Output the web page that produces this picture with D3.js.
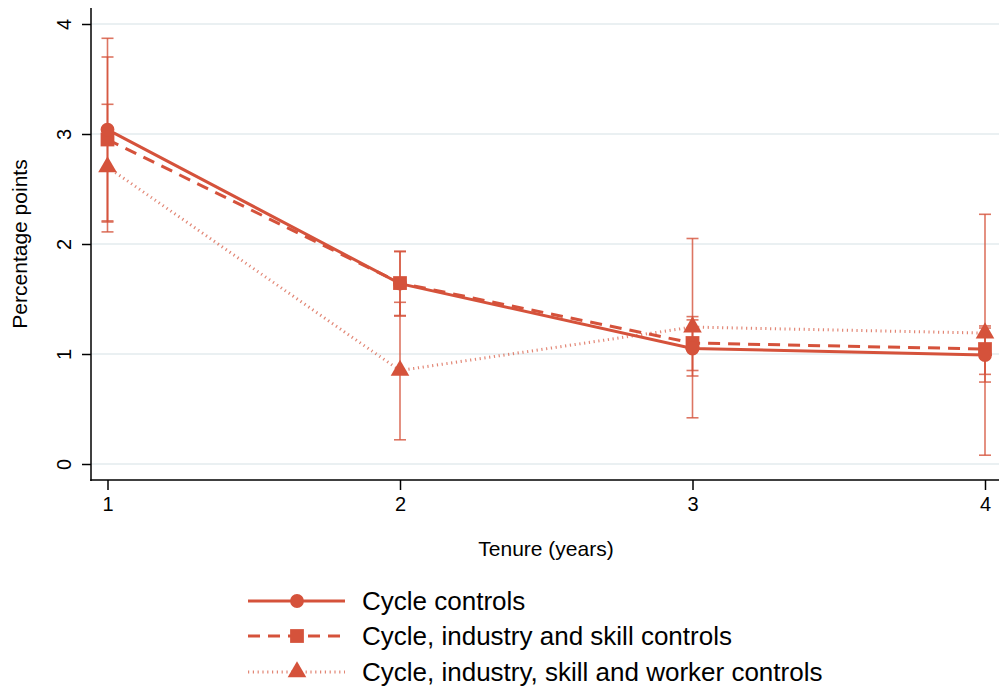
<!DOCTYPE html>
<html><head><meta charset="utf-8">
<script src="https://cdn.jsdelivr.net/npm/d3@7"></script>
<style>body{margin:0;background:#fff}svg{display:block;font-family:"Liberation Sans",Arial,Helvetica,sans-serif}</style>
</head><body><svg id="c" width="999" height="689"></svg>
<script>
const tenure = [1, 2, 3, 4];
const seriesNames = ["Cycle controls", "Cycle, industry and skill controls", "Cycle, industry, skill and worker controls"];
const cycleVals = [3.04, 1.64, 1.05, 0.99];
const cycleLo   = [2.20, 1.35, 0.80, 0.745];
const cycleHi   = [3.87, 1.93, 1.31, 1.236];
const indVals = [2.95, 1.645, 1.10, 1.045];
const indLo   = [2.21, 1.345, 0.85, 0.815];
const indHi   = [3.70, 1.935, 1.34, 1.255];
const workVals = [2.70, 0.85, 1.245, 1.19];
const workLo   = [2.11, 0.22, 0.42, 0.08];
const workHi   = [3.27, 1.47, 2.05, 2.27];
const yTicks = [0, 1, 2, 3, 4];
const xTicks = [1, 2, 3, 4];

const color = "#d5523b";
const svg = d3.select("#c");
const x = d3.scaleLinear().domain([1, 4]).range([107.5, 985]);
const y = d3.scaleLinear().domain([0, 4]).range([464, 24]);

// grid
svg.append("g").selectAll("line").data(yTicks).join("line")
  .attr("x1", 91).attr("x2", 999).attr("y1", d => y(d)).attr("y2", d => y(d))
  .attr("stroke", "#eaf0f2").attr("stroke-width", 2);

// axes
const yAxis = svg.append("g").attr("transform", "translate(91,0)")
  .call(d3.axisLeft(y).tickValues(yTicks).tickSize(9).tickPadding(0).tickFormat(d3.format("d")));
yAxis.select(".domain").remove();
yAxis.selectAll("line").attr("stroke", "#000").attr("stroke-width", 1.5);
yAxis.selectAll("text").attr("font-size", 20).attr("fill", "#000")
  .attr("text-anchor", "middle").attr("dy", "0.36em").attr("x", null)
  .attr("transform", "translate(-27,0) rotate(-90)");
svg.append("line").attr("x1", 91).attr("x2", 91).attr("y1", 8).attr("y2", 481)
  .attr("stroke", "#000").attr("stroke-width", 1.5);

const xAxis = svg.append("g").attr("transform", "translate(0,480)")
  .call(d3.axisBottom(x).tickValues(xTicks).tickSize(10).tickPadding(7).tickFormat(d3.format("d")));
xAxis.select(".domain").remove();
xAxis.selectAll("line").attr("stroke", "#000").attr("stroke-width", 1.5);
xAxis.selectAll("text").attr("font-size", 20).attr("fill", "#000");
svg.append("line").attr("x1", 90.25).attr("x2", 999).attr("y1", 480).attr("y2", 480)
  .attr("stroke", "#000").attr("stroke-width", 1.5);

svg.append("text").attr("x", 546).attr("y", 556).attr("text-anchor", "middle")
  .attr("font-size", 21).text("Tenure (years)");
svg.append("text").attr("transform", "translate(27,244) rotate(-90)").attr("text-anchor", "middle")
  .attr("font-size", 21).text("Percentage points");

const series = [
  {name: seriesNames[0], v: cycleVals, lo: cycleLo, hi: cycleHi, dash: null, w: 3, op: 1, sym: d3.symbolCircle, size: 150},
  {name: seriesNames[1], v: indVals, lo: indLo, hi: indHi, dash: "12,8", w: 3, op: 1, sym: d3.symbolSquare, size: 190},
  {name: seriesNames[2], v: workVals, lo: workLo, hi: workHi, dash: "1.2,3.6", w: 3, op: 0.7, sym: d3.symbolTriangle, size: 150}
];

// error bars
series.forEach(s => {
  const g = svg.append("g").attr("stroke", color).attr("stroke-width", 1.6).attr("stroke-opacity", 0.8);
  tenure.forEach((t, i) => {
    g.append("line").attr("x1", x(t)).attr("x2", x(t)).attr("y1", y(s.lo[i])).attr("y2", y(s.hi[i]));
    [s.lo[i], s.hi[i]].forEach(v => g.append("line").attr("x1", x(t) - 6).attr("x2", x(t) + 6).attr("y1", y(v)).attr("y2", y(v)));
  });
});

const line = d3.line().x((d, i) => x(tenure[i])).y(d => y(d));
series.slice().reverse().forEach(s => {
  svg.append("path").datum(s.v).attr("d", line).attr("fill", "none").attr("stroke", color)
    .attr("stroke-width", s.w).attr("stroke-opacity", s.op).attr("stroke-dasharray", s.dash);
});
series.slice().reverse().forEach(s => {
  svg.append("g").selectAll("path").data(s.v).join("path")
    .attr("transform", (d, i) => `translate(${x(tenure[i])},${y(d)})`)
    .attr("d", d3.symbol().type(s.sym).size(s.size)).attr("fill", color);
});

// legend
const legY = [601, 636, 672];
series.forEach((s, i) => {
  const g = svg.append("g").attr("transform", `translate(0,${legY[i]})`);
  g.append("line").attr("x1", 248).attr("x2", 345).attr("y1", 0).attr("y2", 0)
    .attr("stroke", color).attr("stroke-width", s.w).attr("stroke-opacity", s.op).attr("stroke-dasharray", s.dash);
  g.append("path").attr("transform", "translate(297,0)").attr("d", d3.symbol().type(s.sym).size(s.size)).attr("fill", color);
  g.append("text").attr("x", 362).attr("y", 0).attr("dy", "0.36em").attr("font-size", 26).attr("fill", "#000").text(s.name);
});
</script></body></html>
